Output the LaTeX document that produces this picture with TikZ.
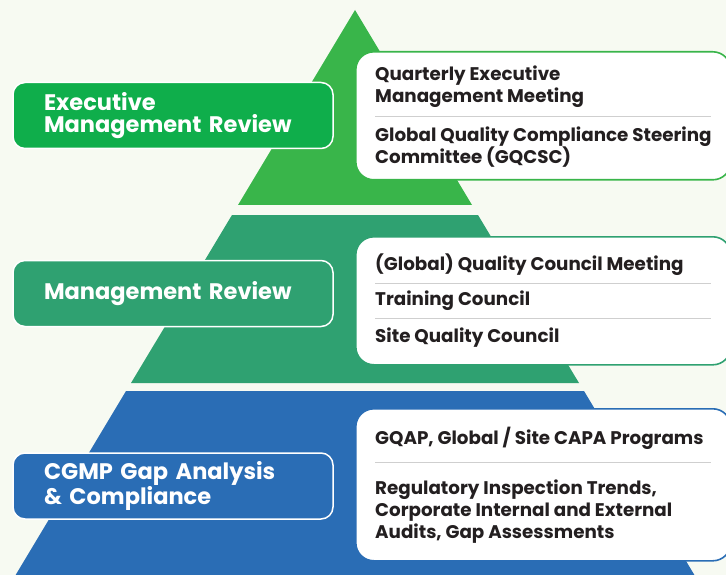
\documentclass[tikz,border=0pt]{standalone}
\usepackage{fontspec}
\setmainfont{Poppins}[BoldFont={Poppins Bold}]
\definecolor{bg}{HTML}{F7FAF2}
\definecolor{gTop}{HTML}{39B54A}
\definecolor{gTopLbl}{HTML}{0FAE4B}
\definecolor{gMid}{HTML}{2FA171}
\definecolor{gBot}{HTML}{2A6DB5}
\definecolor{ink}{HTML}{231F20}
\definecolor{sep}{HTML}{CFCFCF}
\begin{document}
\begin{tikzpicture}[x=1pt,y=-1pt,
  lbl/.style={draw=white, line width=1.5pt, rounded corners=12pt,
    minimum width=320pt, minimum height=66pt, text width=258pt,
    inner xsep=31pt, inner ysep=0pt, align=left, text=white,
    font=\bfseries\fontsize{22.5}{22}\selectfont},
  itembox/.style={fill=white, line width=1.6pt, rounded corners=18pt,
    minimum width=375pt, anchor=north west, inner sep=0pt},
  item/.style={anchor=west, inner sep=0pt, align=left, text=ink,
    font=\bfseries\fontsize{18.3}{22}\selectfont},
  sepline/.style={draw=sep, line width=1pt}]
\useasboundingbox (0,0) rectangle (726,575);
\fill[bg] (0,0) rectangle (726,575);
% pyramid tiers
\fill[gTop] (355,10) -- (238,205) -- (472,205) -- cycle;
\fill[gMid] (232,215) -- (478,215) -- (579,383) -- (131,383) -- cycle;
\fill[gBot] (126,391) -- (584,391) -- (695,576) -- (15,576) -- cycle;
% right boxes
\node[itembox, draw=gTop, minimum height=128pt] (b1) at (355,51) {};
\node[itembox, draw=gMid, minimum height=128pt] (b2) at (355,236) {};
\node[itembox, draw=gBot, minimum height=152pt] (b3) at (355,408) {};
% left labels
\node[lbl, fill=gTopLbl] (l1) at (173,115.5) {Executive\\Management Review};
\node[lbl, fill=gMid] (l2) at (173,293.5) {Management Review};
\node[lbl, fill=gBot] (l3) at (173,486) {CGMP Gap Analysis\\\& Compliance};
% items
\node[item] (i11) at (375,87) {Quarterly Executive\\Management Meeting};
\draw[sepline] (375,117) -- (711,117);
\node[item] (i12) at (375,147) {Global Quality Compliance Steering\\Committee (GQCSC)};
\node[item] (i21) at (375,265) {(Global) Quality Council Meeting};
\draw[sepline] (375,283) -- (711,283);
\node[item] (i22) at (375,301) {Training Council};
\draw[sepline] (375,318) -- (711,318);
\node[item] (i23) at (375,338) {Site Quality Council};
\node[item] (i31) at (375,438) {GQAP, Global / Site CAPA Programs};
\draw[sepline] (375,462) -- (711,462);
\node[item] (i32) at (375,512) {Regulatory Inspection Trends,\\Corporate Internal and External\\Audits, Gap Assessments};
\end{tikzpicture}
\end{document}
